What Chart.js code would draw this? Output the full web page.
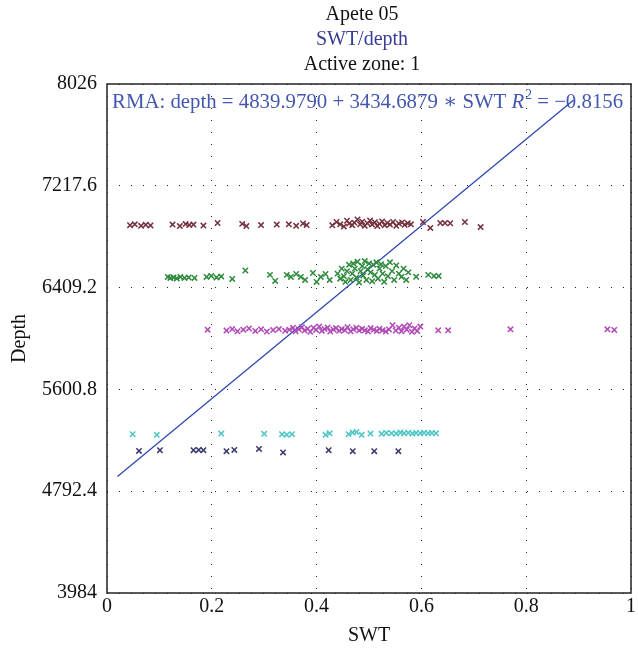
<!DOCTYPE html>
<html>
<head>
<meta charset="utf-8">
<script src="https://cdn.jsdelivr.net/npm/chart.js@4/dist/chart.umd.min.js"></script>
<style>
  html, body { margin: 0; padding: 0; background: #fff; }
  #wrap { width: 638px; height: 657px; }
</style>
</head>
<body>
<div id="wrap"><canvas id="myChart" width="638" height="657"></canvas></div>
<script>
// SWT vs depth, one list per zone
const zonaMarrom = [
  [0.044, 6905], [0.053, 6912], [0.065, 6900], [0.074, 6908], [0.083, 6903],
  [0.125, 6910], [0.139, 6898], [0.150, 6914], [0.157, 6906], [0.165, 6910], [0.184, 6902],
  [0.211, 6922], [0.258, 6915], [0.266, 6898], [0.294, 6906],
  [0.324, 6910], [0.347, 6912], [0.361, 6900], [0.374, 6918], [0.381, 6906],
  [0.430, 6904], [0.438, 6930], [0.445, 6912], [0.452, 6895], [0.458, 6940], [0.462, 6918],
  [0.468, 6905], [0.472, 6925], [0.478, 6950], [0.483, 6912], [0.487, 6933], [0.492, 6900],
  [0.497, 6920], [0.502, 6942], [0.506, 6910], [0.511, 6928], [0.516, 6898], [0.520, 6915],
  [0.525, 6935], [0.530, 6905], [0.535, 6922], [0.540, 6910], [0.546, 6930], [0.552, 6900],
  [0.557, 6918], [0.563, 6927], [0.568, 6908], [0.574, 6920], [0.580, 6912],
  [0.603, 6930], [0.617, 6883], [0.636, 6922], [0.645, 6922], [0.655, 6920], [0.683, 6930], [0.713, 6890]
];

const zonaVerde = [
  [0.116, 6494], [0.121, 6486], [0.127, 6490], [0.133, 6482], [0.140, 6494], [0.148, 6486],
  [0.156, 6490], [0.167, 6486], [0.190, 6494], [0.199, 6502], [0.209, 6490], [0.218, 6498],
  [0.239, 6478], [0.264, 6545], [0.311, 6510], [0.321, 6462],
  [0.343, 6510], [0.351, 6494], [0.361, 6517], [0.370, 6494], [0.378, 6470],
  [0.393, 6525], [0.400, 6454], [0.408, 6494], [0.417, 6517], [0.425, 6470],
  [0.440, 6520], [0.445, 6480], [0.448, 6560], [0.452, 6500], [0.455, 6455], [0.458, 6540],
  [0.462, 6590], [0.465, 6470], [0.468, 6520], [0.470, 6600], [0.473, 6560], [0.476, 6490],
  [0.478, 6615], [0.481, 6450], [0.484, 6540], [0.487, 6580], [0.489, 6505], [0.492, 6620],
  [0.495, 6470], [0.497, 6555], [0.500, 6600], [0.503, 6530], [0.506, 6460], [0.508, 6590],
  [0.511, 6510], [0.514, 6610], [0.517, 6480], [0.520, 6560], [0.523, 6595], [0.526, 6520],
  [0.529, 6455], [0.532, 6580], [0.536, 6500], [0.540, 6610], [0.544, 6540], [0.548, 6470],
  [0.552, 6585], [0.557, 6520], [0.562, 6495], [0.566, 6560], [0.571, 6470], [0.575, 6530],
  [0.590, 6495], [0.613, 6510], [0.624, 6502], [0.633, 6502]
];

const zonaMagenta = [
  [0.192, 6075], [0.228, 6068], [0.239, 6080], [0.249, 6062], [0.260, 6075], [0.271, 6085],
  [0.283, 6065], [0.294, 6078], [0.305, 6060], [0.317, 6072], [0.328, 6080], [0.340, 6066],
  [0.348, 6075], [0.355, 6090], [0.360, 6062], [0.366, 6078], [0.372, 6095], [0.377, 6068],
  [0.383, 6082], [0.388, 6058], [0.394, 6090], [0.399, 6073], [0.405, 6100], [0.410, 6065],
  [0.415, 6080], [0.421, 6092], [0.426, 6060], [0.432, 6077], [0.437, 6088], [0.443, 6066],
  [0.448, 6080], [0.454, 6070], [0.459, 6095], [0.465, 6062], [0.470, 6078], [0.476, 6090],
  [0.481, 6068], [0.487, 6082], [0.492, 6070], [0.498, 6060], [0.503, 6088], [0.509, 6075],
  [0.515, 6065], [0.520, 6082], [0.526, 6070], [0.532, 6060], [0.538, 6077], [0.545, 6110],
  [0.551, 6068], [0.557, 6090], [0.562, 6062], [0.567, 6100], [0.572, 6075], [0.577, 6110],
  [0.582, 6058], [0.587, 6085], [0.592, 6065], [0.598, 6100],
  [0.632, 6070], [0.651, 6070], [0.770, 6078], [0.955, 6078], [0.968, 6073]
];

const zonaCiano = [
  [0.049, 5245], [0.095, 5240], [0.218, 5250], [0.300, 5248], [0.334, 5245], [0.343, 5240],
  [0.353, 5245], [0.417, 5240], [0.425, 5252], [0.461, 5245], [0.469, 5258], [0.476, 5262],
  [0.486, 5240], [0.503, 5250], [0.524, 5248], [0.533, 5255], [0.543, 5252], [0.552, 5250],
  [0.560, 5258], [0.567, 5252], [0.575, 5256], [0.583, 5250], [0.590, 5255], [0.598, 5252],
  [0.605, 5256], [0.613, 5252], [0.620, 5255], [0.628, 5252]
];

const zonaAzul = [
  [0.061, 5112], [0.101, 5118], [0.165, 5118], [0.175, 5120], [0.184, 5118], [0.228, 5110],
  [0.243, 5120], [0.290, 5128], [0.336, 5100], [0.423, 5118], [0.469, 5110], [0.510, 5110],
  [0.556, 5110]
];

// RMA fit: depth = intercept + slope * SWT
const rmaIntercept = 4839.9790;
const rmaSlope = 3434.6879;
const rmaR2 = "\u22120.8156";
const rmaSwt = [0.02, 0.89];

const yTicks = [3984, 4792.4, 5600.8, 6409.2, 7217.6, 8026];
const xTicks = [0, 0.2, 0.4, 0.6, 0.8, 1];

const titulos = [
  { text: "Apete 05", color: "#111" },
  { text: "SWT/depth", color: "#3a3d96" },
  { text: "Active zone: 1", color: "#111" }
];

const serif = "'Liberation Serif', 'DejaVu Serif', serif";

function pontos(lista) {
  return lista.map(([x, y]) => ({ x: x, y: y }));
}

function serie(lista, cor) {
  return {
    type: "scatter",
    data: pontos(lista),
    pointStyle: "crossRot",
    pointRadius: 3.8,
    borderColor: cor,
    backgroundColor: cor,
    pointBorderWidth: 1.5,
    showLine: false
  };
}

const cabecalho = {
  id: "cabecalho",
  afterDraw(chart) {
    const ctx = chart.ctx;
    ctx.save();
    ctx.font = "20px " + serif;
    ctx.textAlign = "center";
    ctx.textBaseline = "middle";
    titulos.forEach((t, i) => {
      ctx.fillStyle = t.color;
      ctx.fillText(t.text, 362, 15 + i * 25);
    });
    // frame round the plot
    const a = chart.chartArea;
    ctx.strokeStyle = "#222";
    ctx.lineWidth = 1.5;
    ctx.strokeRect(a.left, a.top, a.right - a.left, a.bottom - a.top);
    ctx.restore();
  }
};

// equation line, stretched to run almost the full width of the plot
const equacao = {
  id: "equacao",
  beforeDatasetsDraw(chart) {
    const ctx = chart.ctx;
    const a = chart.chartArea;
    const partes = "RMA: depth = " + rmaIntercept.toFixed(4) + " + " + rmaSlope.toFixed(4) + " \u2217 SWT ";
    const resto = " = " + rmaR2;
    ctx.save();
    ctx.font = "20px " + serif;
    let largura = ctx.measureText(partes).width + ctx.measureText(resto).width;
    ctx.font = "italic 20px " + serif;
    largura += ctx.measureText("R").width + 8;
    const k = (a.right - a.left - 12) / largura;
    const fs = 20 * k;

    ctx.fillStyle = "#4457b0";
    ctx.textBaseline = "middle";
    ctx.textAlign = "left";
    let x = a.left + 5;
    const y = 103;
    ctx.font = fs + "px " + serif;
    ctx.fillText(partes, x, y);
    x += ctx.measureText(partes).width;
    ctx.font = "italic " + fs + "px " + serif;
    ctx.fillText("R", x, y);
    x += ctx.measureText("R").width;
    ctx.font = (fs * 0.65) + "px " + serif;
    ctx.fillText("2", x + 1, y - 8);
    x += ctx.measureText("2").width + 1;
    ctx.font = fs + "px " + serif;
    ctx.fillText(resto, x, y);
    ctx.restore();
  }
};

const ctx = document.getElementById("myChart");

new Chart(ctx, {
  data: {
    datasets: [
      serie(zonaMarrom, "#74303f"),
      serie(zonaVerde, "#2f8a3c"),
      serie(zonaMagenta, "#b04cb8"),
      serie(zonaCiano, "#4fc6c6"),
      serie(zonaAzul, "#3b3b6e"),
      {
        type: "line",
        data: rmaSwt.map((s) => ({ x: s, y: rmaIntercept + rmaSlope * s })),
        borderColor: "#2d48b0",
        borderWidth: 1.3,
        pointRadius: 0,
        fill: false
      }
    ]
  },
  options: {
    responsive: false,
    animation: false,
    layout: { padding: { top: 84, right: 4, left: 0, bottom: 0 } },
    plugins: {
      legend: { display: false },
      tooltip: { enabled: false }
    },
    scales: {
      x: {
        type: "linear",
        min: 0,
        max: 1,
        afterBuildTicks: (scale) => { scale.ticks = xTicks.map((v) => ({ value: v })); },
        afterFit: (scale) => { scale.height = 64; },
        ticks: {
          color: "#111",
          font: { family: serif, size: 20 },
          padding: 2,
          maxRotation: 0,
          callback: (v) => String(v)
        },
        grid: { color: "#222", lineWidth: 1, drawTicks: false },
        border: { display: false, dash: [1, 11] },
        title: {
          display: true,
          text: "SWT",
          color: "#111",
          font: { family: serif, size: 20 },
          padding: { top: 0, bottom: 9 }
        }
      },
      y: {
        type: "linear",
        min: 3984,
        max: 8026,
        afterBuildTicks: (scale) => { scale.ticks = yTicks.map((v) => ({ value: v })); },
        afterFit: (scale) => { scale.width = 107; },
        ticks: {
          color: "#111",
          font: { family: serif, size: 20 },
          padding: 10,
          callback: (v) => String(v)
        },
        grid: { color: "#222", lineWidth: 1, drawTicks: false },
        border: { display: false, dash: [1, 11] },
        title: {
          display: true,
          text: "Depth",
          color: "#111",
          font: { family: serif, size: 20 },
          padding: { top: 8, bottom: 0 }
        }
      }
    }
  },
  plugins: [equacao, cabecalho]
});
</script>
</body>
</html>
